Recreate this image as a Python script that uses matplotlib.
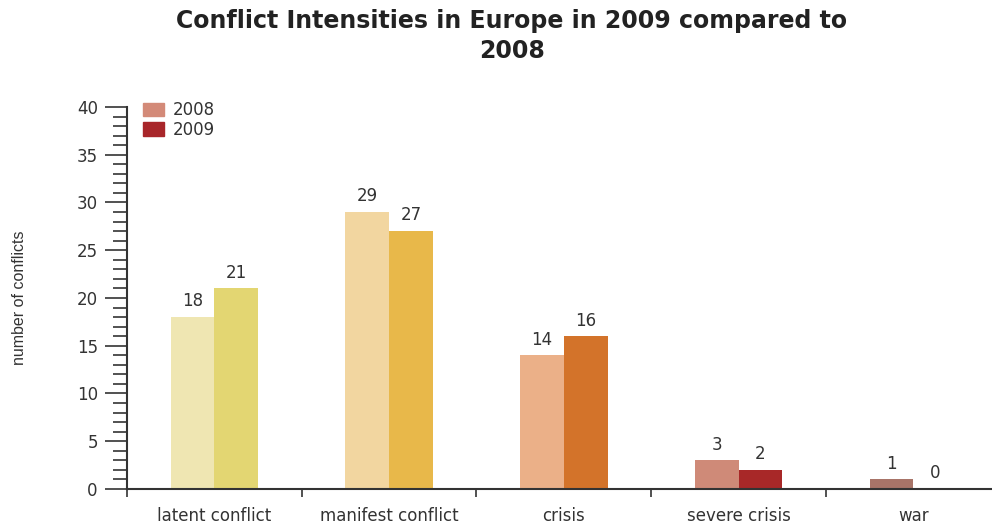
import matplotlib

matplotlib.use("Agg")
import matplotlib.pyplot as plt
from matplotlib.patches import Patch
from matplotlib.ticker import FixedLocator, MultipleLocator, NullFormatter

categories = ["latent conflict", "manifest conflict", "crisis", "severe crisis", "war"]
values_2008 = [18, 29, 14, 3, 1]
values_2009 = [21, 27, 16, 2, 0]
colors_2008 = ["#EFE6B2", "#F2D6A0", "#EBB088", "#CF8A78", "#A87468"]
colors_2009 = ["#E3D672", "#E8B84A", "#D3732A", "#A82828", "#8A3A30"]

plt.rcParams["font.family"] = ["DejaVu Sans"]
INK = "#333333"

fig = plt.figure(figsize=(9.92, 5.24), dpi=100)
ax = fig.add_axes([0.128, 0.0668, 0.872, 0.729])

x = list(range(len(categories)))
w = 0.25
ax.bar([i - w / 2 for i in x], values_2008, w, color=colors_2008)
ax.bar([i + w / 2 for i in x], values_2009, w, color=colors_2009)
for i in x:
    ax.text(i - w / 2, values_2008[i] + 0.7, str(values_2008[i]), ha="center", va="bottom",
            fontsize=12, color=INK)
    ax.text(i + w / 2, values_2009[i] + 0.7, str(values_2009[i]), ha="center", va="bottom",
            fontsize=12, color=INK)

ax.set_ylim(0, 40)
ax.set_xlim(-0.5, 4.45)
ax.yaxis.set_major_locator(MultipleLocator(5))
ax.yaxis.set_minor_locator(MultipleLocator(1))
ax.tick_params(axis="y", which="major", length=16, width=1.2, color=INK, labelsize=12,
               labelcolor=INK, pad=5)
ax.tick_params(axis="y", which="minor", length=10, width=1.2, color=INK)

ax.xaxis.set_major_locator(FixedLocator([i - 0.5 for i in x]))
ax.xaxis.set_major_formatter(NullFormatter())
ax.xaxis.set_minor_locator(FixedLocator(x))
ax.set_xticklabels(categories, minor=True)
ax.tick_params(axis="x", which="major", length=6, width=1.2, color=INK)
ax.tick_params(axis="x", which="minor", length=0, labelsize=12, labelcolor=INK, pad=13)

for s in ("top", "right"):
    ax.spines[s].set_visible(False)
for s in ("left", "bottom"):
    ax.spines[s].set_color(INK)
    ax.spines[s].set_linewidth(1.5)

ax.set_ylabel("number of conflicts", fontsize=11.5, color=INK, labelpad=36,
              family="Liberation Sans")

handles = [Patch(color="#D38A78", label="2008"), Patch(color="#A8262A", label="2009")]
ax.legend(handles=handles, loc="upper left", bbox_to_anchor=(0.018, 1.015), frameon=False,
          fontsize=12, handlelength=1.3, handleheight=0.9, handletextpad=0.5,
          labelspacing=0.1, borderaxespad=0.0, borderpad=0.0, labelcolor=INK)

fig.suptitle("Conflict Intensities in Europe in 2009 compared to\n2008", x=0.516, y=0.982,
             fontsize=17, fontweight="bold", color="#222222", linespacing=1.3)

fig.savefig("out.png", dpi=100)
